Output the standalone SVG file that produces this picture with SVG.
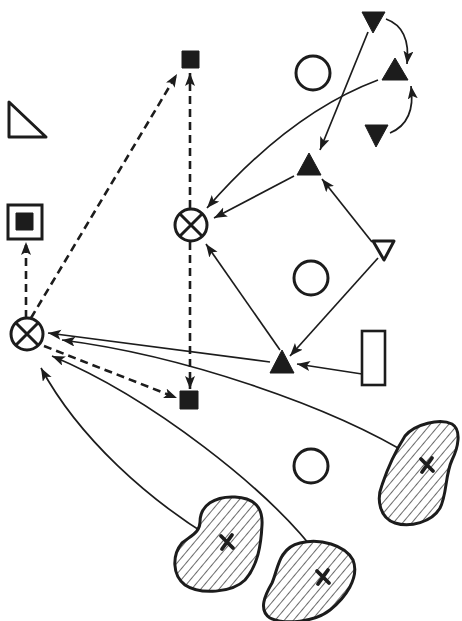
<svg xmlns="http://www.w3.org/2000/svg" width="462" height="621" viewBox="0 0 462 621">
<style>
.ln{fill:none;stroke:#1c1c1c;stroke-width:1.7}
.dl{fill:none;stroke:#1c1c1c;stroke-width:2.6;stroke-dasharray:8 5}
.ol{fill:none;stroke:#1c1c1c;stroke-width:3}
.fl{fill:#1c1c1c;stroke:#1c1c1c;stroke-width:1;stroke-linejoin:round}
.blob{fill:url(#hatch);stroke:#1c1c1c;stroke-width:3}
.x{stroke:#1c1c1c;stroke-width:3.8;stroke-linecap:round}
</style>
<defs>
<marker id="a" markerUnits="userSpaceOnUse" markerWidth="16" markerHeight="12" refX="13" refY="5" orient="auto">
<path d="M0,0 L13,5 L0,10 L3,5 z" fill="#1c1c1c"/>
</marker>
<pattern id="hatch" width="7" height="7" patternUnits="userSpaceOnUse" patternTransform="rotate(40)">
<rect width="7" height="7" fill="#fff"/>
<line x1="0" y1="0" x2="0" y2="7" stroke="#1c1c1c" stroke-width="1.3"/>
</pattern>
</defs>
<rect width="462" height="621" fill="#fff"/>
<g id="connectors">
<path class="dl" d="M31,318 L177,74" marker-end="url(#a)"/>
<path class="dl" d="M190,208 L190,73" marker-end="url(#a)"/>
<path class="dl" d="M190,242 L190,389" marker-end="url(#a)"/>
<path class="dl" d="M26,318 L26,242" marker-end="url(#a)"/>
<path class="dl" d="M44,346 L177,398" marker-end="url(#a)"/>
<path class="ln" d="M386,19 Q411,28 407,64" marker-end="url(#a)"/>
<path class="ln" d="M390,133 Q416,122 411,86" marker-end="url(#a)"/>
<path class="ln" d="M368,32 L320,150" marker-end="url(#a)"/>
<path class="ln" d="M378,80 Q290,113 207,208" marker-end="url(#a)"/>
<path class="ln" d="M294,176 L214,218" marker-end="url(#a)"/>
<path class="ln" d="M372,242 L322,179" marker-end="url(#a)"/>
<path class="ln" d="M378,258 L290,356" marker-end="url(#a)"/>
<path class="ln" d="M362,374 L297,364" marker-end="url(#a)"/>
<path class="ln" d="M280,350 L206,244" marker-end="url(#a)"/>
<path class="ln" d="M270,362 L48,333" marker-end="url(#a)"/>
<path class="ln" d="M415,458 C330,405 180,355 62,340" marker-end="url(#a)"/>
<path class="ln" d="M320,558 C270,490 150,397 52,356" marker-end="url(#a)"/>
<path class="ln" d="M210,537 C150,500 80,440 41,368" marker-end="url(#a)"/>
</g>
<g id="triangle-outline"><polygon class="ol" points="9,102 9,137 46,137" stroke-linejoin="round"/></g>
<g id="square-in-square"><rect class="ol" x="8" y="205" width="34" height="34"/><rect class="fl" x="16" y="213" width="17" height="17"/></g>
<g id="top-square"><rect class="fl" x="182" y="51" width="17" height="17"/></g>
<g id="bottom-square"><rect class="fl" x="180" y="391" width="18" height="18"/></g>
<g id="crossed-circle-left"><circle class="ol" cx="27" cy="334" r="16"/><path class="ol" d="M16,323 L38,345 M38,323 L16,345"/></g>
<g id="crossed-circle-upper"><circle class="ol" cx="191" cy="225" r="16"/><path class="ol" d="M180,214 L202,236 M202,214 L180,236"/></g>
<g id="circle-1"><circle class="ol" cx="313" cy="73" r="17"/></g>
<g id="circle-2"><circle class="ol" cx="311" cy="278" r="17"/></g>
<g id="circle-3"><circle class="ol" cx="311" cy="466" r="17"/></g>
<g id="tri-down-top"><polygon class="fl" points="362,12 385,12 373,33"/></g>
<g id="tri-up-right"><polygon class="fl" points="395,58 382,80 408,80"/></g>
<g id="tri-down-right"><polygon class="fl" points="365,125 388,125 376,147"/></g>
<g id="tri-up-mid"><polygon class="fl" points="309,153 297,175 321,175"/></g>
<g id="tri-open"><polygon class="ol" points="373,241 394,241 384,260" stroke-linejoin="round"/></g>
<g id="tri-up-low"><polygon class="fl" points="282,350 270,373 294,373"/></g>
<g id="rect"><rect x="362" y="331" width="23" height="54" fill="#fff" stroke="#1c1c1c" stroke-width="2.6"/></g>
<g id="blob-right"><path class="blob" d="M405,436 C415,424 440,418 452,424 C462,430 458,448 452,460 C445,475 447,495 440,508 C432,522 410,528 395,523 C380,518 376,500 382,485 C387,470 393,455 405,436 Z"/><path class="x" d="M421,459 L433,471 M432,458 L422,472"/></g>
<g id="blob-left"><path class="blob" d="M200,522 C200,505 215,496 235,497 C255,498 263,508 262,525 C261,545 258,565 245,580 C232,593 200,595 185,585 C172,575 172,555 182,543 C192,535 200,532 200,522 Z"/><path class="x" d="M221,536 L233,548 M232,535 L222,549"/></g>
<g id="blob-mid"><path class="blob" d="M300,543 C320,538 345,545 353,560 C360,578 345,598 330,610 C315,622 285,625 270,618 C258,610 265,595 272,583 C278,570 278,548 300,543 Z"/><path class="x" d="M317,571 L329,583 M328,570 L318,584"/></g>
</svg>
